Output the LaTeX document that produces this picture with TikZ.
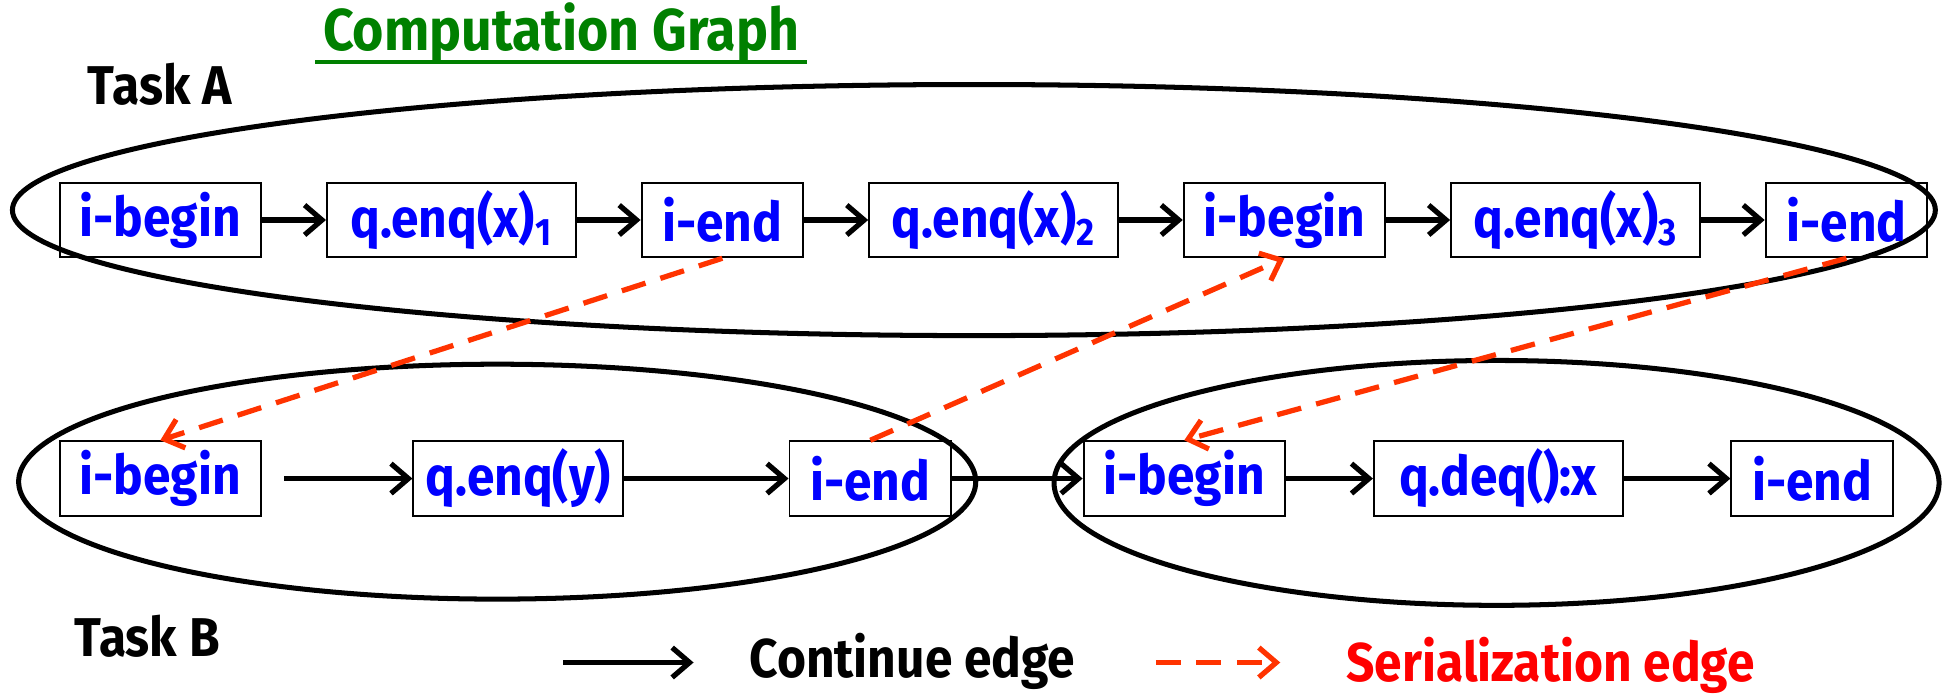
\documentclass[tikz,border=0pt]{standalone}
\usepackage{fontspec}
\setmainfont{Fira Sans}[FakeStretch=0.91]
\definecolor{cgblue}{HTML}{0000FF}
\definecolor{cggreen}{HTML}{008000}
\definecolor{cgorange}{HTML}{FF3300}
\definecolor{cgred}{HTML}{FF0000}
\usetikzlibrary{arrows.meta,positioning}

\begin{document}
\begin{tikzpicture}[
  node distance=5mm and 1.03cm,
  box/.style={draw,line width=0.9pt,minimum height=1.2cm,inner sep=1pt,
    font=\fontsize{25}{28}\selectfont\bfseries,text=cgblue},
  bbox/.style={box,minimum width=3.24cm},
  qbox/.style={box,minimum width=4cm},
  ebox/.style={box,minimum width=2.6cm},
  arr/.style={-{Straight Barb[length=2.8mm,width=4.8mm]},line width=2.4pt},
  sarr/.style={-{Straight Barb[length=2.8mm,width=4.8mm]},cgorange,line width=2.4pt,
    dash pattern=on 4mm off 2.5mm},
  task/.style={line width=2.3pt},
  lab/.style={font=\fontsize{25}{28}\selectfont\bfseries}]
\useasboundingbox (0,0) rectangle (31.36,11.2);
% tasks
\draw[task] (15.67,7.82) ellipse (15.47 and 2.02);
\draw[task] (8.0,3.45) ellipse (7.7 and 1.89);
\draw[task] (24.08,3.43) ellipse (7.12 and 1.97);
\node[lab,font=\fontsize{27}{30}\selectfont\bfseries,text=cggreen] (ttl) at (9.03,10.66) {Computation Graph};
\draw[cggreen,line width=1.6pt] ([yshift=-5pt]ttl.base west) -- ([yshift=-5pt]ttl.base east);
\node[lab] (taska) at (2.57,9.84) {Task A};
\node[lab] (taskb) at (2.37,0.96) {Task B};
% task A
\node[bbox] (abeg1) at (2.58,7.66) {i-begin};
\node[qbox,right=of abeg1] (aenq1) {q.enq(x)\textsubscript{1}};
\node[ebox,right=of aenq1] (aend1) {i-end};
\node[qbox,right=of aend1] (aenq2) {q.enq(x)\textsubscript{2}};
\node[bbox,right=of aenq2] (abeg2) {i-begin};
\node[qbox,right=of abeg2] (aenq3) {q.enq(x)\textsubscript{3}};
\node[ebox,right=of aenq3] (aend2) {i-end};
\draw[arr] (abeg1) -- (aenq1);
\draw[arr] (aenq1) -- (aend1);
\draw[arr] (aend1) -- (aenq2);
\draw[arr] (aenq2) -- (abeg2);
\draw[arr] (abeg2) -- (aenq3);
\draw[arr] (aenq3) -- (aend2);
% task B
\node[bbox] (bbeg1) at (2.58,3.5) {i-begin};
\node[box,minimum width=3.38cm,right=2.42cm of bbeg1] (benq) {q.enq(y)};
\node[ebox,right=2.64cm of benq] (bend1) {i-end};
\node[bbox,right=2.1cm of bend1] (bbeg2) {i-begin};
\node[qbox,right=1.4cm of bbeg2] (bdeq) {q.deq():x};
\node[ebox,right=1.72cm of bdeq] (bend2) {i-end};
\draw[arr,shorten <=0.36cm] (bbeg1) -- (benq);
\draw[arr] (benq) -- (bend1);
\draw[arr] (bend1) -- (bbeg2);
\draw[arr] (bbeg2) -- (bdeq);
\draw[arr] (bdeq) -- (bend2);
% serialization
\draw[sarr] (aend1.south) -- (bbeg1.north);
\draw[sarr] (bend1.north) -- (abeg2.south);
\draw[sarr] (aend2.south) -- (bbeg2.north);
% legend
\coordinate (cs) at (9.06,0.54);
\coordinate (ce) at (11.16,0.54);
\draw[arr] (cs) -- (ce);
\node[lab] (cont) at (14.68,0.56) {Continue edge};
\coordinate (ss) at (18.6,0.54);
\coordinate (se) at (20.6,0.54);
\draw[sarr] (ss) -- (se);
\node[lab,text=cgred] (ser) at (24.95,0.5) {Serialization edge};
\end{tikzpicture}
\end{document}
